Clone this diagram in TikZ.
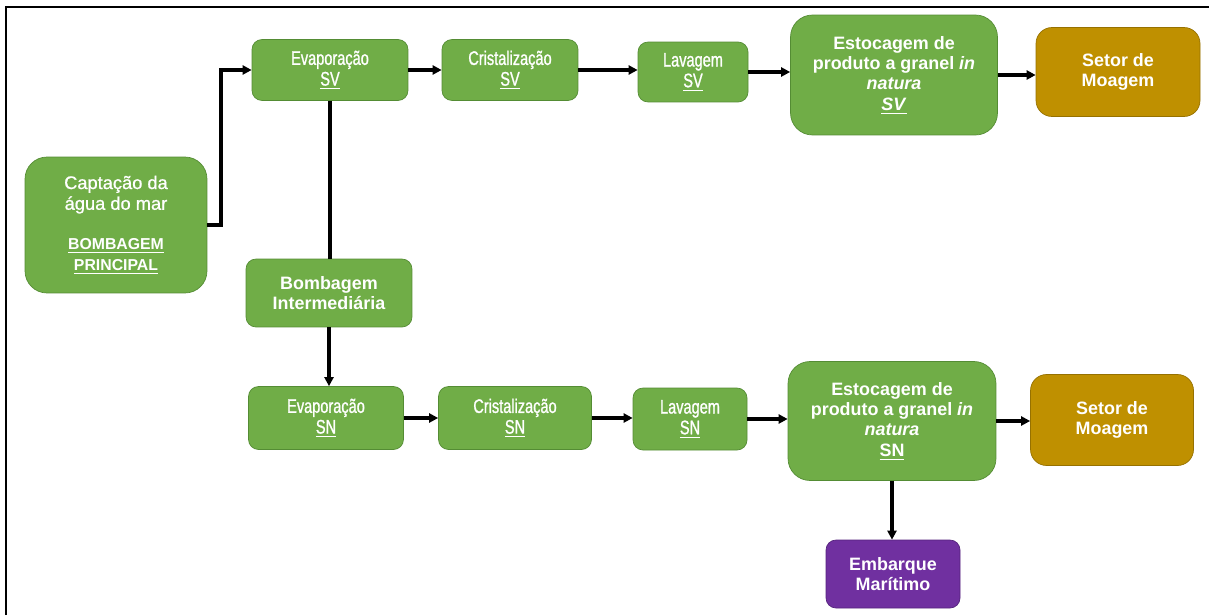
\documentclass[tikz,border=0pt]{standalone}
\usepackage{fontspec}
\setmainfont{Liberation Sans}
\newfontfamily\narrowfont{Liberation Sans}[FakeStretch=0.74, FakeBold=1]
\newfontfamily\softfont{Liberation Sans}[FakeBold=0.8]
\usetikzlibrary{arrows.meta}
\definecolor{boxgreen}{RGB}{112,173,71}
\definecolor{boxgreenline}{RGB}{84,140,52}
\definecolor{boxgold}{RGB}{191,144,0}
\definecolor{boxgoldline}{RGB}{150,113,0}
\definecolor{boxpurple}{RGB}{112,48,160}
\definecolor{boxpurpleline}{RGB}{85,35,125}

\begin{document}
\begin{tikzpicture}[
    x=0.02cm, y=-0.02cm,
    box/.style={
        rectangle, thin, text=white, align=center, inner sep=1pt,
        font=\softfont\fontsize{10.4}{11.8}\selectfont
    },
    stagebox/.style={
        box, draw=boxgreenline, fill=boxgreen, rounded corners=0.2cm,
        font=\narrowfont\fontsize{11.2}{11.8}\selectfont
    },
    storebox/.style={
        box, draw=boxgreenline, fill=boxgreen, rounded corners=0.44cm,
        font=\bfseries\fontsize{10.2}{11.6}\selectfont
    },
    millbox/.style={
        box, draw=boxgoldline, fill=boxgold, rounded corners=0.32cm,
        font=\bfseries\fontsize{10.2}{11.6}\selectfont
    },
    shipbox/.style={
        box, draw=boxpurpleline, fill=boxpurple, rounded corners=0.2cm,
        font=\bfseries\fontsize{10.2}{11.6}\selectfont
    },
    arrow/.style={line width=2.1pt, -{Triangle[length=1.8mm,width=1.8mm]}, black},
    link/.style={line width=2.1pt, black}
]
    \useasboundingbox (0,0) rectangle (1209,615);
    % Frame
    \draw[line width=1.3pt] (6,615) -- (6,7) -- (1209,7);
    % Nodes
    \node (capt) [box, draw=boxgreenline, fill=boxgreen, rounded corners=0.44cm,
        minimum width=3.64cm, minimum height=2.72cm] at (116,225)
        {Captação da\\água do mar\\[11pt]
         {\rmfamily\bfseries\fontsize{9}{10.5}\selectfont\underline{BOMBAGEM}}\\
         {\rmfamily\bfseries\fontsize{9}{10.5}\selectfont\underline{PRINCIPAL}}};
    \node (evsv) [stagebox, minimum width=3.12cm, minimum height=1.22cm] at (330,70)
        {Evaporação\\\underline{SV}};
    \node (crsv) [stagebox, minimum width=2.72cm, minimum height=1.22cm] at (510,70)
        {Cristalização\\\underline{SV}};
    \node (lvsv) [stagebox, minimum width=2.2cm, minimum height=1.2cm] at (693,72)
        {Lavagem\\\underline{SV}};
    \node (essv) [storebox, minimum width=4.14cm, minimum height=2.4cm] at (894,75)
        {Estocagem de\\produto a granel \textit{in}\\\textit{natura}\\\underline{\textit{SV}}};
    \node (mosv) [millbox, minimum width=3.28cm, minimum height=1.78cm] at (1118,72)
        {Setor de\\Moagem};
    \node (bomb) [box, draw=boxgreenline, fill=boxgreen, rounded corners=0.2cm,
        font=\bfseries\fontsize{10.2}{11.6}\selectfont,
        minimum width=3.32cm, minimum height=1.36cm] at (329,293)
        {Bombagem\\Intermediária};
    \node (evsn) [stagebox, minimum width=3.1cm, minimum height=1.26cm] at (326,418)
        {Evaporação\\\underline{SN}};
    \node (crsn) [stagebox, minimum width=3.06cm, minimum height=1.26cm] at (515,418)
        {Cristalização\\\underline{SN}};
    \node (lvsn) [stagebox, minimum width=2.28cm, minimum height=1.24cm] at (690,419)
        {Lavagem\\\underline{SN}};
    \node (essn) [storebox, minimum width=4.16cm, minimum height=2.38cm] at (892,421)
        {Estocagem de\\produto a granel \textit{in}\\\textit{natura}\\\underline{SN}};
    \node (mosn) [millbox, minimum width=3.26cm, minimum height=1.82cm] at (1112,420)
        {Setor de\\Moagem};
    \node (emb) [shipbox, minimum width=2.68cm, minimum height=1.36cm] at (893,574)
        {Embarque\\Marítimo};
    % Connections
    \draw [arrow] (capt.east) -- ++(14,0) |- (evsv.west);
    \draw [arrow] (evsv.east) -- (evsv.east -| crsv.west);
    \draw [arrow] (crsv.east) -- (crsv.east -| lvsv.west);
    \draw [arrow] (lvsv.east) -- (lvsv.east -| essv.west);
    \draw [arrow] (essv.east) -- (essv.east -| mosv.west);
    \draw [link] (evsv.south) -- (evsv.south |- bomb.north);
    \draw [arrow] (bomb.south) -- (bomb.south |- evsn.north);
    \draw [arrow] (evsn.east) -- (evsn.east -| crsn.west);
    \draw [arrow] (crsn.east) -- (crsn.east -| lvsn.west);
    \draw [arrow] (lvsn.east) -- (lvsn.east -| essn.west);
    \draw [arrow] (essn.east) -- (essn.east -| mosn.west);
    \draw [arrow] (essn.south) -- (essn.south |- emb.north);
\end{tikzpicture}
\end{document}
